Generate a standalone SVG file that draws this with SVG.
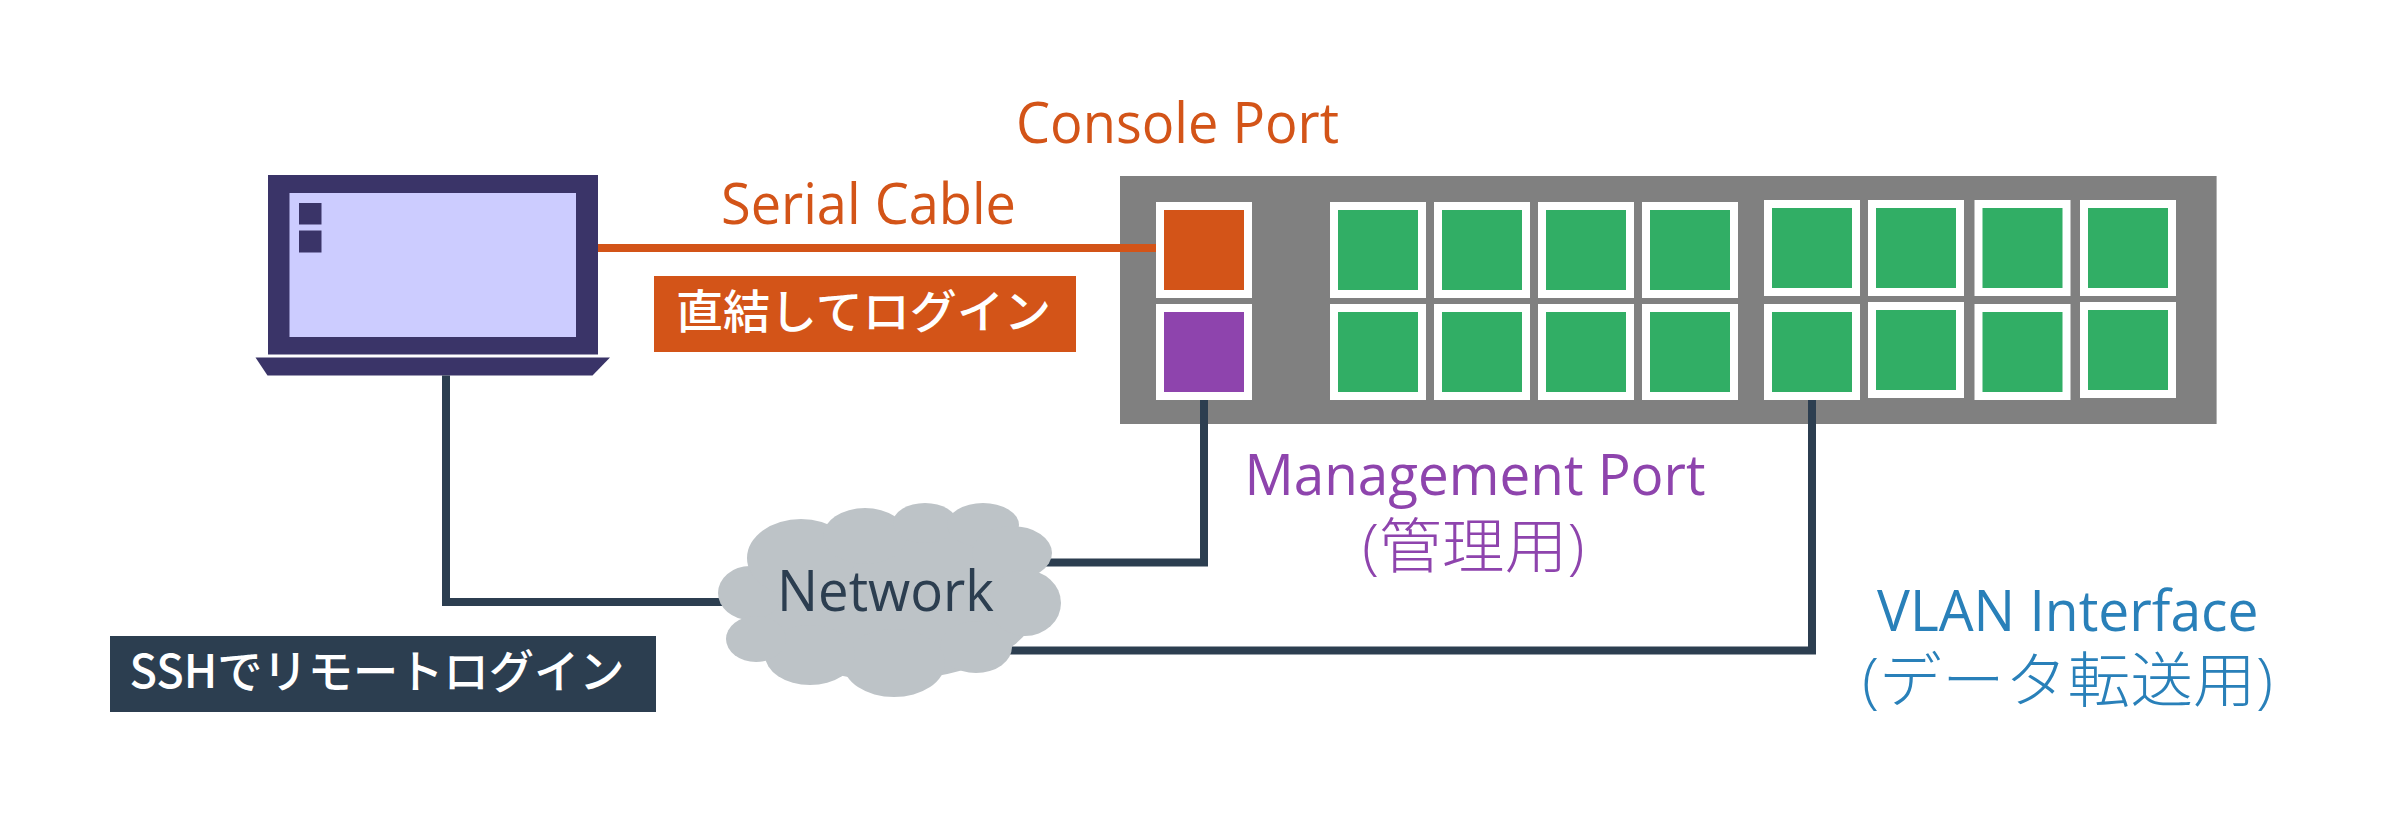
<svg xmlns="http://www.w3.org/2000/svg" width="2396" height="828" viewBox="0 0 2396 828">
<style>
text{font-family:"Open Sans","Noto Sans CJK JP",sans-serif;font-size:56px}
.cjk{font-family:"Noto Sans CJK JP",sans-serif}
.lt{font-size:60px;font-weight:300}
.lab{font-size:46px;font-weight:500;fill:#fff}
.or{fill:#d35418}.pu{fill:#8e44ad}.bl{fill:#2980b9}.nt{fill:#2c3e50}
.lap{fill:#3a3468}
.w{fill:#fff}.g{fill:#31ae65}
.cable{fill:none;stroke-width:8;stroke:#2c3e50}
</style>
<defs>
<g id="gp"><rect class="w" width="96" height="96"/><rect class="g" x="8" y="8" width="80" height="80"/></g>
</defs>
<rect width="2396" height="828" fill="#fff"/>
<g id="switch">
<rect x="1120" y="176" width="1096.6" height="248" fill="#808080"/>
<g id="console-port"><rect class="w" x="1156" y="202" width="96" height="96"/><rect class="or" x="1164" y="210" width="80" height="80"/></g>
<g id="management-port"><rect class="w" x="1156" y="304" width="96" height="96"/><rect class="pu" x="1164" y="312" width="80" height="80"/></g>
<use href="#gp" x="1330" y="202"/><use href="#gp" x="1434" y="202"/><use href="#gp" x="1538" y="202"/><use href="#gp" x="1642" y="202"/>
<use href="#gp" x="1330" y="304"/><use href="#gp" x="1434" y="304"/><use href="#gp" x="1538" y="304"/><use href="#gp" x="1642" y="304"/>
<use href="#gp" x="1764" y="200"/><use href="#gp" x="1868" y="200"/><use href="#gp" x="1974.5" y="200"/><use href="#gp" x="2080" y="200"/>
<use href="#gp" x="1764" y="304"/><use href="#gp" x="1868" y="302"/><use href="#gp" x="1974.5" y="304"/><use href="#gp" x="2080" y="302"/>
</g>
<g id="laptop">
<rect class="lap" x="268" y="175" width="330" height="179.5"/>
<rect x="289.5" y="193" width="286.5" height="144" fill="#ccccff"/>
<rect class="lap" x="299" y="203" width="22.5" height="21.5"/>
<rect class="lap" x="299" y="230.5" width="22.5" height="22"/>
<polygon class="lap" points="255.5,357.5 610,357.5 592.5,375.5 267.5,375.5"/>
</g>
<g id="connectors">
<path class="cable" style="stroke:#d35418" d="M598 248H1156"/>
<path class="cable" d="M446 375.5V602H725"/>
<path class="cable" d="M1204 400V562.5H1040"/>
<path class="cable" d="M1812 400V650.5H1000"/>
</g>
<g id="network">
<g fill="#bdc3c7">
<ellipse cx="890" cy="600" rx="150" ry="80"/>
<ellipse cx="750" cy="593" rx="32" ry="27"/>
<ellipse cx="801" cy="558" rx="54" ry="39"/>
<ellipse cx="865" cy="536" rx="42" ry="28"/>
<ellipse cx="925" cy="523" rx="32" ry="20"/>
<ellipse cx="983" cy="525" rx="36" ry="22"/>
<ellipse cx="1012" cy="553" rx="40" ry="27"/>
<ellipse cx="1025" cy="603" rx="36" ry="33"/>
<ellipse cx="976" cy="647" rx="36" ry="26"/>
<ellipse cx="894" cy="663" rx="51" ry="34"/>
<ellipse cx="810" cy="655" rx="45" ry="30"/>
<ellipse cx="756" cy="639" rx="30" ry="23"/>
</g>
<text class="nt" x="777" y="611" textLength="217" lengthAdjust="spacingAndGlyphs">Network</text>
</g>
<g id="label-console"><text class="or" x="1016" y="143" textLength="323" lengthAdjust="spacingAndGlyphs">Console Port</text></g>
<g id="label-serial"><text class="or" x="721" y="224" textLength="295" lengthAdjust="spacingAndGlyphs">Serial Cable</text></g>
<g id="label-direct">
<rect class="or" x="654" y="276" width="422" height="76"/>
<text class="lab cjk" x="676" y="328" textLength="375" lengthAdjust="spacingAndGlyphs">直結してログイン</text>
</g>
<g id="label-ssh">
<rect class="nt" x="110" y="636" width="546" height="76"/>
<text class="lab cjk" x="129.5" y="688" textLength="495" lengthAdjust="spacingAndGlyphs">SSHでリモートログイン</text>
</g>
<g id="label-management">
<text class="pu" x="1244.5" y="495" textLength="461" lengthAdjust="spacingAndGlyphs">Management Port</text>
<text class="pu lt" x="1362" y="568" textLength="222.5" lengthAdjust="spacingAndGlyphs">(管理用)</text>
</g>
<g id="label-vlan">
<text class="bl" x="1877" y="630.5" textLength="381.5" lengthAdjust="spacingAndGlyphs">VLAN Interface</text>
<text class="bl lt" x="1862" y="702" textLength="411" lengthAdjust="spacingAndGlyphs">(データ転送用)</text>
</g>
</svg>
